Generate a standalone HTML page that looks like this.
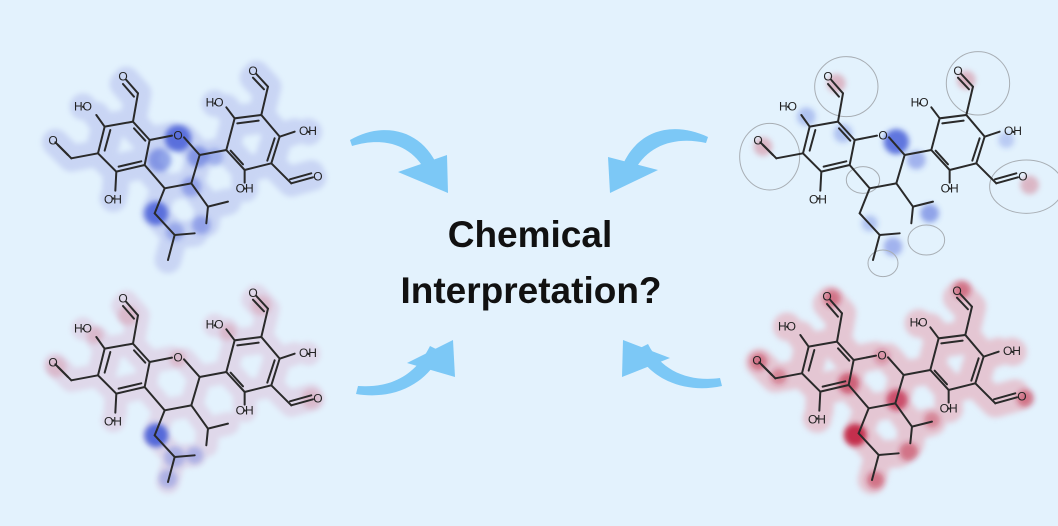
<!DOCTYPE html>
<html><head><meta charset="utf-8"><style>
html,body{margin:0;padding:0;background:#e3f2fd;}
svg{display:block}
</style></head><body>
<svg width="1058" height="526" viewBox="0 0 1058 526" xmlns="http://www.w3.org/2000/svg">
<defs>
<filter id="b" x="-50%" y="-50%" width="200%" height="200%"><feGaussianBlur stdDeviation="5"/></filter>
<filter id="b3" x="-20%" y="-20%" width="140%" height="140%"><feGaussianBlur stdDeviation="8"/></filter>
<g id="geom">
<polygon points="315,215 230,230 210,310 265,365 350,345 365,270"/>
<polyline points="365,270 432,257"/><polyline points="468,262 515,315 490,400 410,415 350,345"/>
<polygon points="595,300 620,205 700,195 755,260 730,340 650,360"/>
<line x1="247" y1="240" x2="230" y2="302"/><line x1="318" y1="235" x2="352" y2="272"/><line x1="272" y1="350" x2="340" y2="334"/>
<line x1="628" y1="220" x2="692" y2="212"/><line x1="740" y1="265" x2="718" y2="332"/><line x1="645" y1="343" x2="608" y2="302"/>
<line x1="315" y1="215" x2="330" y2="130"/><line x1="330" y1="130" x2="295" y2="90"/><line x1="318" y1="140" x2="285" y2="102"/>
<line x1="230" y1="230" x2="205" y2="195"/>
<line x1="210" y1="310" x2="130" y2="325"/><line x1="130" y1="325" x2="90" y2="285"/><line x1="120" y1="315" x2="82" y2="277"/>
<line x1="265" y1="365" x2="262" y2="422"/>
<line x1="515" y1="315" x2="595" y2="300"/>
<line x1="490" y1="400" x2="540" y2="470"/><line x1="540" y1="470" x2="600" y2="455"/><line x1="540" y1="470" x2="535" y2="520"/>
<line x1="410" y1="415" x2="380" y2="490"/><line x1="380" y1="490" x2="440" y2="555"/><line x1="440" y1="555" x2="500" y2="550"/><line x1="440" y1="555" x2="420" y2="630"/>
<line x1="620" y1="205" x2="595" y2="172"/>
<line x1="700" y1="195" x2="720" y2="110"/><line x1="720" y1="110" x2="685" y2="72"/><line x1="708" y1="118" x2="675" y2="83"/>
<line x1="755" y1="260" x2="800" y2="245"/>
<line x1="730" y1="340" x2="790" y2="400"/><line x1="790" y1="400" x2="855" y2="382"/><line x1="786" y1="388" x2="850" y2="370"/>
<line x1="650" y1="360" x2="650" y2="398"/>
<line x1="840" y1="245" x2="842" y2="246"/><line x1="255" y1="445" x2="256" y2="446"/><line x1="165" y1="170" x2="166" y2="171"/><line x1="560" y1="160" x2="561" y2="161"/><line x1="650" y1="415" x2="651" y2="416"/>
</g>
</defs>
<rect width="1058" height="526" fill="#e3f2fd"/>

<!-- arrows -->
<g fill="#7cc8f6">
<path d="M350,140 C385,120 425,130 440,172 L428,176 C414,145 385,136 352,146 Z"/>
<polygon points="398,172 448,193 447,155"/>
<path d="M708,137 C672,120 634,130 620,172 L632,176 C645,145 675,136 706,143 Z"/>
<polygon points="608,157 610,193 658,170"/>
<path d="M356,394 C392,400 426,386 442,352 L430,346 C414,378 388,388 358,386 Z"/>
<polygon points="407,363 453,340 455,377"/>
<path d="M722,386 C686,394 650,380 636,350 L648,344 C662,372 690,382 720,378 Z"/>
<polygon points="623,340 622,377 670,358"/>
</g>

<text x="530" y="247" text-anchor="middle" font-family="Liberation Sans, sans-serif" font-weight="bold" font-size="37" fill="#111">Chemical</text>
<text x="531" y="303" text-anchor="middle" font-family="Liberation Sans, sans-serif" font-weight="bold" font-size="37" fill="#111">Interpretation?</text>

<!-- TL -->
<g transform="translate(28,50) scale(0.3333)">
<use href="#geom" stroke="#c9d5f4" stroke-width="80" stroke-linecap="round" stroke-linejoin="round" fill="none" filter="url(#b3)"/>
<g filter="url(#b3)" fill="#3d55d6">
<circle cx="450" cy="265" r="40" opacity="0.8"/><circle cx="510" cy="320" r="32" opacity="0.5"/><circle cx="395" cy="330" r="35" opacity="0.5"/><circle cx="385" cy="490" r="36" opacity="0.8"/><circle cx="490" cy="410" r="30" opacity="0.4"/><circle cx="520" cy="525" r="28" opacity="0.4"/><circle cx="440" cy="545" r="28" opacity="0.35"/><circle cx="560" cy="320" r="26" opacity="0.3"/>
</g>
<use href="#geom" stroke="#2a2a2a" stroke-width="6" fill="none" stroke-linecap="round"/>
<g font-family="Liberation Sans, sans-serif" font-size="36" fill="#222" text-anchor="middle">
<text x="285" y="92">O</text><text x="75" y="283">O</text><text x="165" y="182">HO</text><text x="255" y="460">OH</text><text x="450" y="268">O</text><text x="560" y="170">HO</text><text x="675" y="75">O</text><text x="840" y="255">OH</text><text x="870" y="392">O</text><text x="650" y="428">OH</text>
</g>
</g>

<!-- BL -->
<g transform="translate(28,272) scale(0.3333)">
<use href="#geom" stroke="#dfd8ea" stroke-width="70" stroke-linecap="round" stroke-linejoin="round" fill="none" filter="url(#b3)"/>
<g filter="url(#b3)" fill="#d7a5b8" opacity="0.6">
<circle cx="300" cy="130" r="30"/><circle cx="700" cy="100" r="30"/><circle cx="85" cy="285" r="30"/><circle cx="850" cy="380" r="30"/><circle cx="200" cy="190" r="25"/><circle cx="600" cy="180" r="25"/><circle cx="450" cy="260" r="25"/>
</g>
<g filter="url(#b3)" fill="#3d55d6">
<circle cx="385" cy="490" r="36" opacity="0.85"/><circle cx="440" cy="555" r="32" opacity="0.3"/><circle cx="500" cy="550" r="26" opacity="0.3"/><circle cx="420" cy="620" r="28" opacity="0.3"/>
</g>
<use href="#geom" stroke="#2a2a2a" stroke-width="6" fill="none" stroke-linecap="round"/>
<g font-family="Liberation Sans, sans-serif" font-size="36" fill="#222" text-anchor="middle">
<text x="285" y="92">O</text><text x="75" y="283">O</text><text x="165" y="182">HO</text><text x="255" y="460">OH</text><text x="450" y="268">O</text><text x="560" y="170">HO</text><text x="675" y="75">O</text><text x="840" y="255">OH</text><text x="870" y="392">O</text><text x="650" y="428">OH</text>
</g>
</g>

<!-- TR -->
<g transform="translate(733,50) scale(0.3333)">
<g filter="url(#b3)" fill="#d9a8b8" opacity="0.8">
<circle cx="90" cy="290" r="28"/><circle cx="310" cy="100" r="28"/><circle cx="700" cy="90" r="28"/><circle cx="890" cy="405" r="28"/>
</g>
<g filter="url(#b3)" fill="#3d55d6">
<circle cx="490" cy="275" r="38" opacity="0.8"/><circle cx="550" cy="330" r="28" opacity="0.4"/><circle cx="590" cy="490" r="28" opacity="0.5"/><circle cx="480" cy="590" r="28" opacity="0.4"/><circle cx="220" cy="200" r="28" opacity="0.3"/><circle cx="330" cy="250" r="28" opacity="0.3"/><circle cx="410" cy="520" r="24" opacity="0.3"/><circle cx="820" cy="270" r="24" opacity="0.25"/>
</g>
<g fill="none" stroke="#a8aeb4" stroke-width="3">
<ellipse cx="110" cy="320" rx="90" ry="100"/><ellipse cx="340" cy="110" rx="95" ry="90"/><ellipse cx="735" cy="100" rx="95" ry="95"/><ellipse cx="880" cy="410" rx="110" ry="80"/><ellipse cx="450" cy="640" rx="45" ry="40"/><ellipse cx="580" cy="570" rx="55" ry="45"/><ellipse cx="390" cy="390" rx="50" ry="40"/>
</g>
<use href="#geom" stroke="#2a2a2a" stroke-width="6" fill="none" stroke-linecap="round"/>
<g font-family="Liberation Sans, sans-serif" font-size="36" fill="#222" text-anchor="middle">
<text x="285" y="92">O</text><text x="75" y="283">O</text><text x="165" y="182">HO</text><text x="255" y="460">OH</text><text x="450" y="268">O</text><text x="560" y="170">HO</text><text x="675" y="75">O</text><text x="840" y="255">OH</text><text x="870" y="392">O</text><text x="650" y="428">OH</text>
</g>
</g>

<!-- BR -->
<g transform="translate(732,270) scale(0.3333)">
<use href="#geom" stroke="#e4c6d3" stroke-width="85" stroke-linecap="round" stroke-linejoin="round" fill="none" filter="url(#b3)"/>
<g filter="url(#b3)" fill="#c0203e">
<circle cx="370" cy="495" r="34" opacity="0.9"/><circle cx="350" cy="340" r="32" opacity="0.6"/><circle cx="495" cy="390" r="32" opacity="0.7"/><circle cx="530" cy="545" r="28" opacity="0.5"/><circle cx="80" cy="275" r="26" opacity="0.5"/><circle cx="300" cy="85" r="26" opacity="0.5"/><circle cx="690" cy="60" r="26" opacity="0.5"/><circle cx="880" cy="385" r="26" opacity="0.5"/><circle cx="430" cy="630" r="26" opacity="0.5"/><circle cx="600" cy="450" r="24" opacity="0.4"/><circle cx="140" cy="320" r="24" opacity="0.4"/><circle cx="450" cy="260" r="24" opacity="0.3"/>
</g>
<use href="#geom" stroke="#2a2a2a" stroke-width="6" fill="none" stroke-linecap="round"/>
<g font-family="Liberation Sans, sans-serif" font-size="36" fill="#222" text-anchor="middle">
<text x="285" y="92">O</text><text x="75" y="283">O</text><text x="165" y="182">HO</text><text x="255" y="460">OH</text><text x="450" y="268">O</text><text x="560" y="170">HO</text><text x="675" y="75">O</text><text x="840" y="255">OH</text><text x="870" y="392">O</text><text x="650" y="428">OH</text>
</g>
</g>
</svg>
</body></html>
